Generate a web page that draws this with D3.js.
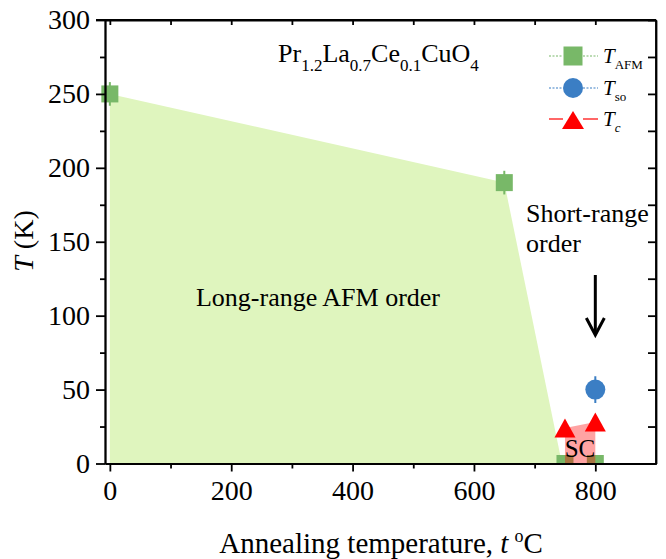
<!DOCTYPE html>
<html><head><meta charset="utf-8">
<script src="https://cdn.jsdelivr.net/npm/d3@7"></script>
<style>
html,body{margin:0;padding:0;background:#fff;}
text{font-family:"Liberation Serif","Times New Roman",serif;fill:#000;}
</style></head>
<body><svg id="c" width="666" height="559"></svg>
<script>
// ---- data ----
const afmT = [0, 650, 750, 800];          // annealing temperature (°C)
const afmV = [250, 190, 0, 0];            // T_AFM (K)
const afmErr = [8, 8, 0, 0];
const soT = [800];
const soV = [50];                         // T_so (K)
const soErr = [9];
const cT = [750, 800];
const cV = [24, 28];                      // T_c (K)
const lroT = [0, 0, 650, 745];            // long-range AFM order region
const lroV = [0, 250, 190, 0];
const scT = [750, 750, 800, 800];         // SC region
const scV = [0, 24, 28, 0];
const xMajor = [0, 200, 400, 600, 800];
const xMinor = [100, 300, 500, 700];
const yMajor = [0, 50, 100, 150, 200, 250, 300];
const yMinor = [25, 75, 125, 175, 225, 275];
const legendItems = ["AFM", "so", "c"];

const FONT = '"Liberation Serif","Times New Roman",serif';
const GREEN = "#78b868", BLUE = "#3b7ec4", RED = "#ff0000";
const svg = d3.select("#c");
const x = d3.scaleLinear().domain([-8, 900]).range([105, 656]);
const y = d3.scaleLinear().domain([0, 300]).range([463.5, 20]);
const L = 105, R = 656, T = 20, B = 463.5;

svg.append("defs").append("clipPath").attr("id", "clip")
  .append("rect").attr("x", 0).attr("y", 0).attr("width", 666).attr("height", B);

const area = d3.line().x((d) => x(d[0])).y((d) => y(d[1]));
// long-range region
svg.append("path").attr("d", area(lroT.map((t, i) => [t, lroV[i]])) + "Z")
  .attr("fill", "#dff5be");

const g = svg.append("g").attr("clip-path", "url(#clip)");
// T_AFM squares
const sq = 17;
afmT.forEach((t, i) => {
  if (afmErr[i] > 0) {
    g.append("line").attr("x1", x(t)).attr("x2", x(t))
      .attr("y1", y(afmV[i] - afmErr[i])).attr("y2", y(afmV[i] + afmErr[i]))
      .attr("stroke", GREEN).attr("stroke-width", 2);
  }
  g.append("rect").attr("x", x(t) - sq / 2).attr("y", y(afmV[i]) - sq / 2)
    .attr("width", sq).attr("height", sq).attr("fill", GREEN);
});
// SC region
g.append("path").attr("d", area(scT.map((t, i) => [t, scV[i]])) + "Z")
  .attr("fill", RED).attr("fill-opacity", 0.36);

// triangles
const tri = (w, h) => `M0,${-h / 2}L${w / 2},${h / 2}L${-w / 2},${h / 2}Z`;
cT.forEach((t, i) => {
  g.append("path").attr("d", tri(21, 19))
    .attr("transform", `translate(${x(t)},${y(cV[i])})`).attr("fill", RED);
});
// circle
soT.forEach((t, i) => {
  g.append("line").attr("x1", x(t)).attr("x2", x(t))
    .attr("y1", y(soV[i] - soErr[i])).attr("y2", y(soV[i] + soErr[i]))
    .attr("stroke", BLUE).attr("stroke-width", 2);
  g.append("circle").attr("cx", x(t)).attr("cy", y(soV[i])).attr("r", 10).attr("fill", BLUE);
});

// ---- axes ----
const axStyle = (sel) => {
  sel.attr("font-family", FONT).attr("font-size", 28);
  sel.selectAll("path.domain").attr("stroke", "#000").attr("stroke-width", 1.8);
  sel.selectAll(".tick line").attr("stroke", "#000").attr("stroke-width", 1.8);
  sel.selectAll(".tick text").style("font-family", FONT)
    .style("font-size", "28px").attr("fill", "#000");
};
// bottom
svg.append("g").attr("transform", `translate(0,${B})`)
  .call(d3.axisBottom(x).tickValues(xMinor).tickSize(5).tickSizeOuter(0).tickFormat(""))
  .call(axStyle);
svg.append("g").attr("transform", `translate(0,${B})`)
  .call(d3.axisBottom(x).tickValues(xMajor).tickSize(8).tickSizeOuter(0).tickPadding(9))
  .call(axStyle);
// top (inward ticks)
svg.append("g").attr("transform", `translate(0,${T})`)
  .call(d3.axisBottom(x).tickValues(xMajor.concat(xMinor)).tickSize(5).tickSizeOuter(0).tickFormat(""))
  .call(axStyle);
// left
svg.append("g").attr("transform", `translate(${L},0)`)
  .call(d3.axisLeft(y).tickValues(yMinor).tickSize(5).tickSizeOuter(0).tickFormat(""))
  .call(axStyle);
svg.append("g").attr("transform", `translate(${L},0)`)
  .call(d3.axisLeft(y).tickValues(yMajor).tickSize(9).tickSizeOuter(0).tickPadding(6))
  .call(axStyle);
// right (inward ticks)
svg.append("g").attr("transform", `translate(${R},0)`)
  .call(d3.axisLeft(y).tickValues(yMajor.concat(yMinor)).tickSize(8).tickSizeOuter(0).tickFormat(""))
  .call(axStyle);
// frame lines
svg.append("line").attr("x1", L - 9).attr("x2", R).attr("y1", T).attr("y2", T)
  .attr("stroke", "#000").attr("stroke-width", 1.8);
svg.append("line").attr("x1", R).attr("x2", R).attr("y1", T).attr("y2", B + 0.9)
  .attr("stroke", "#000").attr("stroke-width", 1.8);

// axis titles
const xt = svg.append("text").attr("x", 381).attr("y", 553).attr("text-anchor", "middle")
  .style("font-size", "29px");
xt.append("tspan").text("Annealing temperature, ");
xt.append("tspan").attr("font-style", "italic").text("t");
xt.append("tspan").attr("font-size", "18px").attr("dy", -11).attr("dx", 6).text("o");
xt.append("tspan").attr("dy", 11).text("C");

const yt = svg.append("text").attr("transform", "translate(33,241) rotate(-90)")
  .attr("text-anchor", "middle").style("font-size", "28px");
yt.append("tspan").attr("font-style", "italic").text("T");
yt.append("tspan").text(" (K)");

// formula
const f = svg.append("text").attr("x", 278).attr("y", 62).style("font-size", "26px");
[["Pr", "1.2"], ["La", "0.7"], ["Ce", "0.1"], ["CuO", "4"]].forEach(([a, b], i) => {
  f.append("tspan").attr("dy", i === 0 ? 0 : -9).text(a);
  f.append("tspan").attr("font-size", "17px").attr("dy", 9).text(b);
});

// annotations
svg.append("text").attr("x", 318).attr("y", 306).attr("text-anchor", "middle")
  .style("font-size", "26px").text("Long-range AFM order");
svg.append("text").attr("x", 526).attr("y", 222).style("font-size", "26px").text("Short-range");
svg.append("text").attr("x", 526).attr("y", 252).style("font-size", "26px").text("order");
svg.append("text").attr("x", 580).attr("y", 457).attr("text-anchor", "middle")
  .style("font-size", "25px").text("SC");
// arrow
const ax0 = x(800);
svg.append("line").attr("x1", ax0).attr("x2", ax0).attr("y1", 275).attr("y2", 334)
  .attr("stroke", "#000").attr("stroke-width", 3);
svg.append("path").attr("d", `M${ax0 - 9},318L${ax0},335L${ax0 + 9},318`)
  .attr("fill", "none").attr("stroke", "#000").attr("stroke-width", 3);

// legend
const ly = [56, 88, 119];
const lcol = [GREEN, BLUE, RED];
legendItems.forEach((lab, i) => {
  const lg = svg.append("g");
  const dash = i < 2 ? "2,1.5" : null;
  lg.append("line").attr("x1", 549).attr("x2", 563).attr("y1", ly[i]).attr("y2", ly[i])
    .attr("stroke", lcol[i]).attr("stroke-width", 1.2).attr("stroke-dasharray", dash);
  lg.append("line").attr("x1", 583).attr("x2", 598).attr("y1", ly[i]).attr("y2", ly[i])
    .attr("stroke", lcol[i]).attr("stroke-width", 1.2).attr("stroke-dasharray", dash);
  if (i === 0) lg.append("rect").attr("x", 573 - 9.5).attr("y", ly[i] - 9.5).attr("width", 19).attr("height", 19).attr("fill", GREEN);
  if (i === 1) lg.append("circle").attr("cx", 573).attr("cy", ly[i]).attr("r", 10).attr("fill", BLUE);
  if (i === 2) lg.append("path").attr("d", tri(22, 18)).attr("transform", `translate(573,${ly[i] + 1})`).attr("fill", RED);
  const t = lg.append("text").attr("x", 603).attr("y", ly[i] + 7).style("font-size", "21px");
  t.append("tspan").attr("font-style", "italic").text("T");
  t.append("tspan").attr("font-size", "13px").attr("dy", 6).attr("font-style", i === 2 ? "italic" : "normal").text(lab);
});
</script></body></html>
